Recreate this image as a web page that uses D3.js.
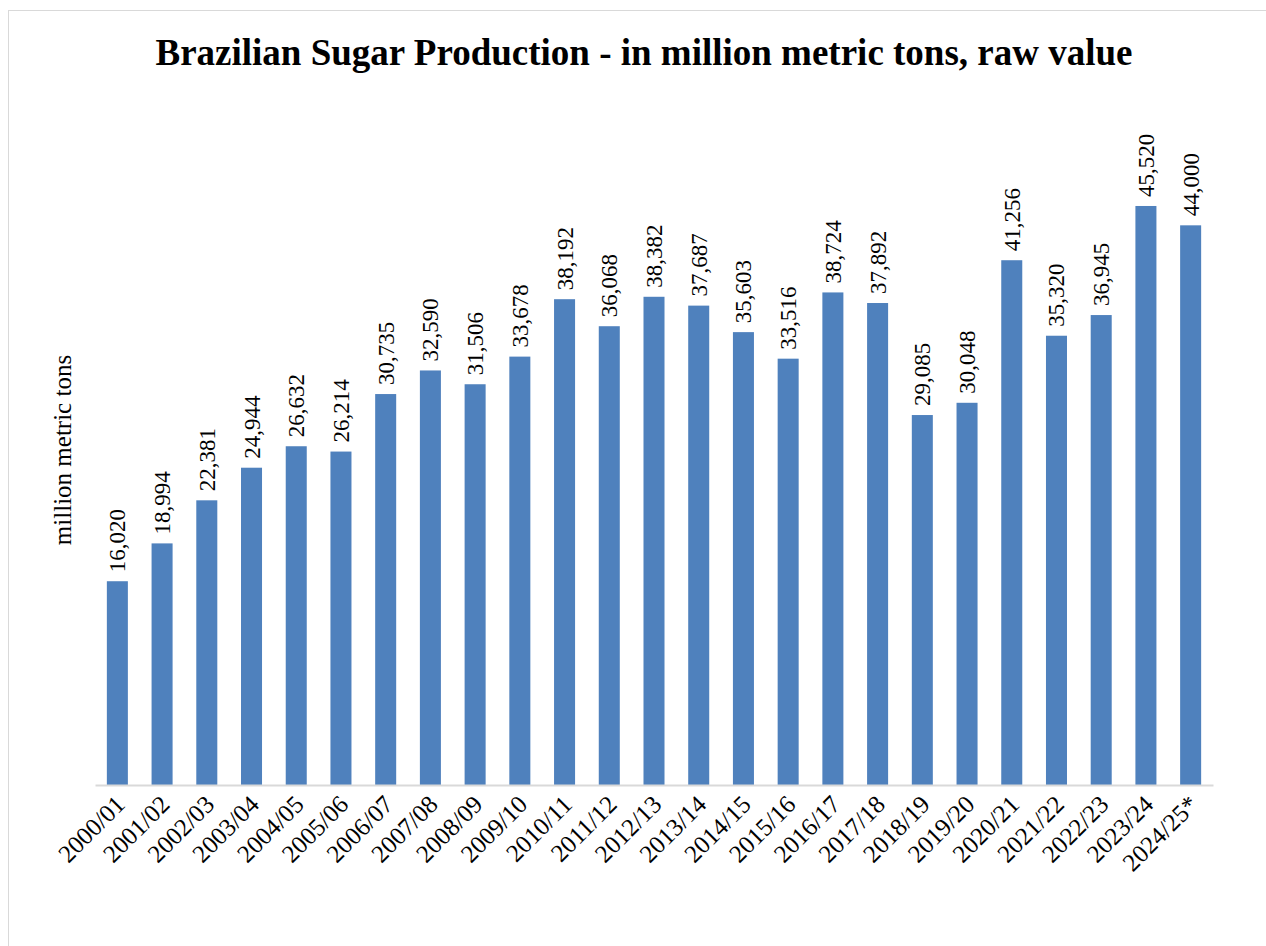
<!DOCTYPE html>
<html><head><meta charset="utf-8">
<script src="https://cdn.jsdelivr.net/npm/d3@7"></script>
<style>html,body{margin:0;padding:0;background:#fff;overflow:hidden}</style>
</head><body>
<svg id="c" width="1266" height="946"></svg>
<script>
const seasons = ["2000/01","2001/02","2002/03","2003/04","2004/05","2005/06","2006/07","2007/08","2008/09","2009/10","2010/11","2011/12","2012/13","2013/14","2014/15","2015/16","2016/17","2017/18","2018/19","2019/20","2020/21","2021/22","2022/23","2023/24","2024/25*"];
const production = [16.020,18.994,22.381,24.944,26.632,26.214,30.735,32.590,31.506,33.678,38.192,36.068,38.382,37.687,35.603,33.516,38.724,37.892,29.085,30.048,41.256,35.320,36.945,45.520,44.000];
const valueLabels = ["16,020","18,994","22,381","24,944","26,632","26,214","30,735","32,590","31,506","33,678","38,192","36,068","38,382","37,687","35,603","33,516","38,724","37,892","29,085","30,048","41,256","35,320","36,945","45,520","44,000"];
const titleText = "Brazilian Sugar Production - in million metric tons, raw value";
const yTitle = "million metric tons";

const svg = d3.select("#c");
const serif = "Liberation Serif, Times New Roman, serif";

svg.append("rect").attr("x",8.5).attr("y",10.5).attr("width",1300).attr("height",1000)
  .attr("fill","none").attr("stroke","#d9d9d9").attr("stroke-width",1);

const x = d3.scaleBand().domain(seasons).range([95,1213]).paddingInner(0.53).paddingOuter(0.265);
const y = d3.scaleLinear().domain([0,50]).range([785,149]);

svg.append("text").attr("x",644).attr("y",65).attr("text-anchor","middle")
  .style("font-family",serif).attr("font-weight","bold").attr("font-size",37).text(titleText);

svg.append("text").attr("transform","translate(71,450) rotate(-90)").attr("text-anchor","middle")
  .style("font-family",serif).attr("font-size",25).text(yTitle);

svg.selectAll("rect.bar").data(production).join("rect").attr("class","bar")
  .attr("x",(d,i)=>x(seasons[i])).attr("width",x.bandwidth())
  .attr("y",d=>y(d)).attr("height",d=>y(0)-y(d)).attr("fill","#4f81bd");

const xAxis = svg.append("g").attr("transform","translate(0,785)").call(d3.axisBottom(x).tickSize(0).tickPadding(0));
xAxis.attr("font-family",null);
xAxis.select(".domain").attr("stroke","#d9d9d9").attr("stroke-width",2);
xAxis.selectAll("text").style("font-family",serif).attr("font-size",25).attr("fill","#000")
  .attr("text-anchor","end").attr("dy",null)
  .attr("transform","translate(9,21) rotate(-45)");

svg.selectAll("text.val").data(production).join("text").attr("class","val")
  .attr("transform",(d,i)=>`translate(${x(seasons[i])+x.bandwidth()/2+8},${y(d)-9}) rotate(-90)`)
  .style("font-family",serif).attr("font-size",23).attr("text-anchor","start")
  .text((d,i)=>valueLabels[i]);
</script>
</body></html>
